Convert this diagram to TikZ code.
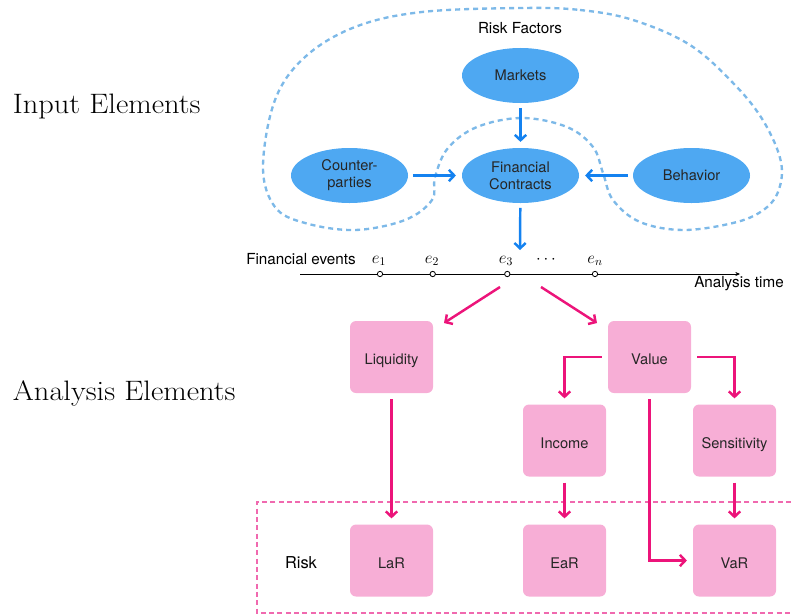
\documentclass[tikz,border=0pt]{standalone}
\usepackage{fontspec}
\setsansfont{TeX Gyre Heros}
\usetikzlibrary{shapes.geometric, arrows.meta}

\definecolor{ellblue}{RGB}{78,168,242}
\definecolor{arrblue}{RGB}{20,130,240}
\definecolor{dashblue}{RGB}{125,185,232}
\definecolor{boxpink}{RGB}{247,174,214}
\definecolor{arrpink}{RGB}{236,20,122}
\definecolor{dashpink}{RGB}{240,105,175}

\newcommand{\edgescl}{0.03}
\newcommand{\coordscl}[1] {#1*\edgescl}
\newcommand{\bn}{\node[ellipse, fill=ellblue, minimum width=3.51cm, minimum height=1.65cm, inner sep=0, align=center, text=black!85, font=\sffamily\fontsize{12.5}{14.5}\selectfont]}
\newcommand{\pn}{\node[rectangle, rounded corners=0.18cm, fill=boxpink, minimum width=2.49cm, minimum height=2.16cm, inner sep=0, text height=13pt, text depth=0pt, text=black!85, font=\sffamily\fontsize{12.5}{14.5}\selectfont]}
\newcommand{\tn}{\node[inner sep=0, font=\sffamily\fontsize{13}{15}\selectfont]}
\newcommand{\en}{\node[circle, draw, line width=0.7pt, fill=white, inner sep=0, minimum size=0.16cm]}
\newcommand{\evlbl}{\node[inner sep=0, anchor=base, font=\fontsize{14}{16}\selectfont]}
\newcommand{\sidettl}{\node[inner sep=0, anchor=base west, xscale=1.08, transform shape, font=\fontsize{24}{28}\selectfont]}

\tikzset{
    barr/.style={draw=arrblue, line width=2.1pt, -{Straight Barb[length=1.6mm, width=3.4mm]}, shorten <=4pt, shorten >=5pt},
    parr/.style={draw=arrpink, line width=2.1pt, -{Straight Barb[length=1.6mm, width=3.4mm]}, shorten <=5pt, shorten >=5pt},
}

\begin{document}
\begin{tikzpicture}
            \useasboundingbox (0,0) rectangle (\coordscl{791}, \coordscl{-615});

            % side titles
            \sidettl (inel) at (\coordscl{12.7}, \coordscl{-113}) {Input Elements};
            \sidettl (anel) at (\coordscl{12.7}, \coordscl{-400}) {Analysis Elements};

            % risk factors region
            \begin{scope}[x=\edgescl cm, y=-\edgescl cm]
                \draw[dashblue, line width=2pt, dash pattern=on 4.3pt off 3.4pt]
                    plot[smooth cycle, tension=0.6] coordinates {
                    (522,8) (580,10) (633,20) (690,45) (735,85) (764,122) (781,162)
                    (778,192) (762,211) (733,223) (683,230) (640,222) (613,200) (603,173)
                    (593,147) (567,127) (522,118) (477,127) (448,148) (435,177) (432,200)
                    (405,220) (355,230) (305,223) (275,207) (263,167) (275,100)
                    (305,57) (355,27) (422,12)};
            \end{scope}
            \tn (rf) at (\coordscl{520}, \coordscl{-28}) {Risk Factors};

            \bn (mkt) at (\coordscl{520.5}, \coordscl{-75.5}) {Markets};
            \bn (cpty) at (\coordscl{349.5}, \coordscl{-175.5}) {Counter-\\parties};
            \bn (fc) at (\coordscl{520.5}, \coordscl{-175.5}) {Financial\\Contracts};
            \bn (beh) at (\coordscl{691.5}, \coordscl{-175.5}) {Behavior};

            % time line
            \coordinate (t0) at (\coordscl{300}, \coordscl{-274});
            \coordinate (t1) at (\coordscl{740}, \coordscl{-274});
            \coordinate (fcin) at (\coordscl{520}, \coordscl{-250});
            \draw[line width=0.8pt, -{Stealth[length=4pt, width=3.5pt]}] (t0) -- (t1);
            \tn (fev) at (\coordscl{301}, \coordscl{-259}) {Financial events};
            \tn (atm) at (\coordscl{739}, \coordscl{-284}) {Analysis time};
            \en (ev1) at (\coordscl{380}, \coordscl{-274}) {};
            \en (ev2) at (\coordscl{432.7}, \coordscl{-274}) {};
            \en (ev3) at (\coordscl{507.3}, \coordscl{-274}) {};
            \en (evn) at (\coordscl{595}, \coordscl{-274}) {};
            \evlbl (le1) at (\coordscl{379}, \coordscl{-263}) {$e_1$};
            \evlbl (le2) at (\coordscl{432}, \coordscl{-263}) {$e_2$};
            \evlbl (le3) at (\coordscl{506}, \coordscl{-263}) {$e_3$};
            \evlbl (ldot) at (\coordscl{546}, \coordscl{-263}) {$\cdots$};
            \evlbl (len) at (\coordscl{595}, \coordscl{-263}) {$e_n$};

            % analysis boxes
            \pn (liq) at (\coordscl{391.5}, \coordscl{-357}) {Liquidity};
            \pn (val) at (\coordscl{649.5}, \coordscl{-357}) {Value};
            \pn (inc) at (\coordscl{564.5}, \coordscl{-440.5}) {Income};
            \pn (sens) at (\coordscl{734.5}, \coordscl{-440.5}) {Sensitivity};
            \pn (lar) at (\coordscl{391.5}, \coordscl{-560.5}) {LaR};
            \pn (ear) at (\coordscl{564.5}, \coordscl{-560.5}) {EaR};
            \pn (var) at (\coordscl{734.5}, \coordscl{-560.5}) {VaR};

            % risk region
            \draw[dashpink, line width=2.2pt, dash pattern=on 4.3pt off 2.8pt]
                (\coordscl{791}, \coordscl{-502}) -- (\coordscl{257}, \coordscl{-502})
                -- (\coordscl{257}, \coordscl{-613}) -- (\coordscl{791}, \coordscl{-613});
            \node[inner sep=0, font=\sffamily\fontsize{14}{16}\selectfont] (rsk) at (\coordscl{301}, \coordscl{-563}) {Risk};

            \draw[barr]
                (mkt) -- (fc);
            \draw[barr]
                (cpty) -- (fc);
            \draw[barr]
                (beh) -- (fc);
            \draw[barr, shorten >=0pt]
                (fc) -- (fcin);

            \coordinate (e3l) at (\coordscl{500}, \coordscl{-287});
            \coordinate (e3r) at (\coordscl{541}, \coordscl{-287});
            \coordinate (liqin) at (\coordscl{444}, \coordscl{-323});
            \coordinate (valin) at (\coordscl{597}, \coordscl{-323});

            \draw[parr, shorten <=0pt, shorten >=0pt]
                (e3l) -- (liqin);
            \draw[parr, shorten <=0pt, shorten >=0pt]
                (e3r) -- (valin);
            \draw[parr]
                (val.west) -| (inc.north);
            \draw[parr]
                (val.east) -| (sens.north);
            \draw[parr]
                (liq) -- (lar);
            \draw[parr]
                (inc) -- (ear);
            \draw[parr]
                (sens) -- (var);
            \draw[parr]
                (val.south) |- (var.west);
        \end{tikzpicture}
\end{document}
